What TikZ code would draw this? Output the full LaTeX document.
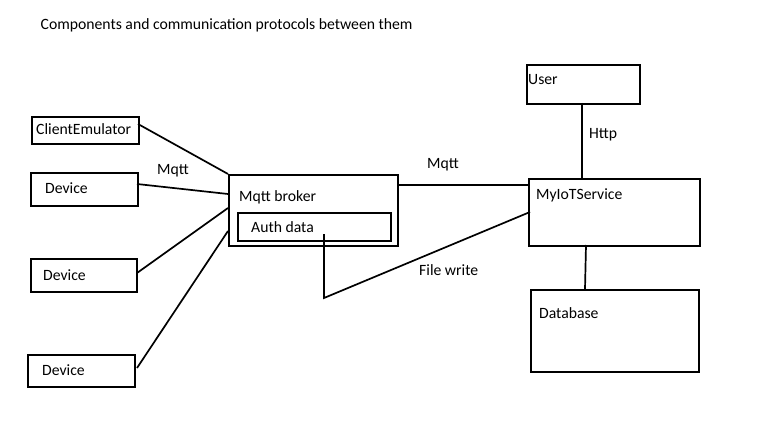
\documentclass[tikz,border=0pt]{standalone}
\usepackage{fontspec}
\setmainfont{Carlito}
\begin{document}
\begin{tikzpicture}[x=1pt,y=-1pt,
  box/.style={draw=black,line width=1.8pt,inner sep=0pt,anchor=north west},
  txt/.style={anchor=base west,inner sep=0pt,font=\fontsize{15.7}{18}\selectfont},
  conn/.style={draw=black,line width=1.7pt}]
\useasboundingbox (0,0) rectangle (775,430);
\fill[white] (0,0) rectangle (775,430);
% boxes
\node[box,minimum width=107pt,minimum height=27pt] (ce) at (31,116) {};
\node[box,minimum width=107pt,minimum height=33pt] (d1) at (30,172) {};
\node[box,minimum width=106pt,minimum height=33pt] (d2) at (30,258) {};
\node[box,minimum width=107pt,minimum height=32pt] (d3) at (27,354) {};
\node[box,minimum width=169pt,minimum height=71pt] (mb) at (228,174) {};
\node[box,minimum width=153pt,minimum height=28pt] (ad) at (237,212) {};
\node[box,minimum width=113pt,minimum height=39pt] (us) at (526,64) {};
\node[box,minimum width=171pt,minimum height=67pt] (ms) at (528,178) {};
\node[box,minimum width=168pt,minimum height=82pt] (db) at (530,289) {};
% texts
\node[txt] (title) at (40.5,30) {Components and communication protocols between them};
\node[txt] (tce) at (36,135) {ClientEmulator};
\node[txt] (td1) at (45,194) {Device};
\node[txt] (td2) at (43,280) {Device};
\node[txt] (td3) at (42,375) {Device};
\node[txt] (tmb) at (239,202) {Mqtt broker};
\node[txt] (tad) at (251,232) {Auth data};
\node[txt] (tus) at (528,85) {User};
\node[txt] (tms) at (536,200) {MyIoTService};
\node[txt] (tdb) at (539,318) {Database};
\node[txt] (lm1) at (157,175) {Mqtt};
\node[txt] (lm2) at (427,169) {Mqtt};
\node[txt] (lht) at (589,139) {Http};
\node[txt] (lfw) at (419,275) {File write};
% connector coordinates
\coordinate (ce1) at (138,124);
\coordinate (mb1) at (228,174);
\coordinate (d1a) at (137,184);
\coordinate (mb2) at (228,194);
\coordinate (d2a) at (137,273);
\coordinate (mb3) at (228,208);
\coordinate (d3a) at (137,368);
\coordinate (mb4) at (228,231);
\coordinate (ad1) at (324,234);
\coordinate (bend) at (324,298);
\coordinate (ms1) at (530,212);
\coordinate (mb5) at (398,185);
\coordinate (ms2) at (528,185);
\coordinate (us1) at (582,103);
\coordinate (ms3) at (582,178);
\coordinate (ms4) at (586,245);
\coordinate (db1) at (585,289);
% connectors
\draw[conn] (ce1) -- (mb1);
\draw[conn] (d1a) -- (mb2);
\draw[conn] (d2a) -- (mb3);
\draw[conn] (d3a) -- (mb4);
\draw[conn] (ad1) -- (bend) -- (ms1);
\draw[conn] (mb5) -- (ms2);
\draw[conn] (us1) -- (ms3);
\draw[conn] (ms4) -- (db1);
\end{tikzpicture}
\end{document}
